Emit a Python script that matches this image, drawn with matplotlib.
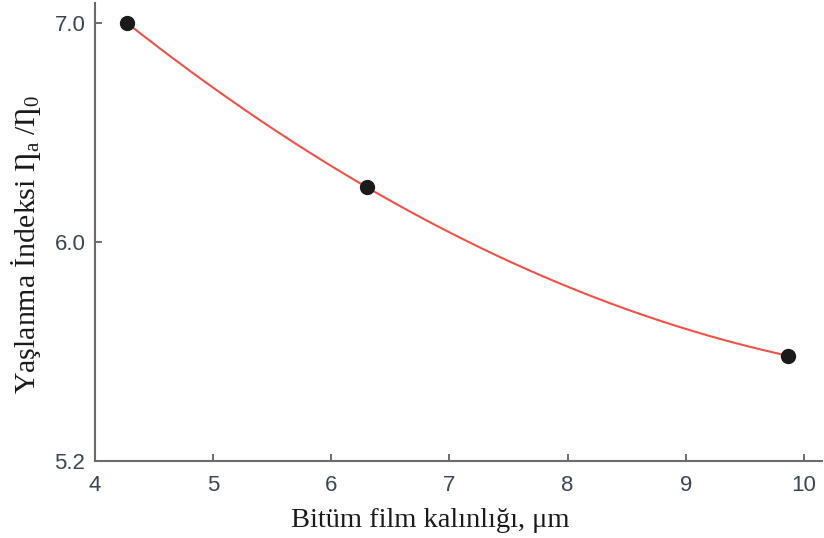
import matplotlib
matplotlib.use("Agg")
import matplotlib.pyplot as plt
import numpy as np

# data
film_thickness = [4.27, 6.30, 9.87]      # Bitüm film kalınlığı, µm
aging_index = [7.00, 6.25, 5.48]         # Ƞa/Ƞ0

x_ticks = [4, 5, 6, 7, 8, 9, 10]
y_ticks = [5.0, 6.0, 7.0]
y_tick_labels = ["5.2", "6.0", "7.0"]

plt.rcParams['mathtext.fontset'] = 'custom'
plt.rcParams['mathtext.rm'] = 'Liberation Serif'
plt.rcParams['mathtext.it'] = 'Liberation Serif'

fig = plt.figure(figsize=(8.24, 5.38), dpi=100)
ax = fig.add_axes([0.1153, 0.1431, 0.882, 0.851])

# smooth trend line (2nd order fit through the points)
coef = np.polyfit(film_thickness, aging_index, 2)
xs = np.linspace(min(film_thickness), max(film_thickness), 200)
ax.plot(xs, np.polyval(coef, xs), color='#f0524a', lw=1.5, zorder=2)
ax.scatter(film_thickness, aging_index, s=100, color='#1a1a1a', zorder=3)

ax.set_xlim(4.0, 10.152)
ax.set_ylim(5.0, 7.09)
ax.set_xticks(x_ticks)
ax.set_yticks(y_ticks)
ax.set_yticklabels(y_tick_labels)

for s in ['top', 'right']:
    ax.spines[s].set_visible(False)
for s in ['left', 'bottom']:
    ax.spines[s].set_color('#6b6b6b')
    ax.spines[s].set_linewidth(1.5)

ax.tick_params(direction='in', length=5, width=1.2, color='#555555',
               labelsize=16, labelcolor='#3b4652')
ax.tick_params(axis='x', pad=10)
ax.tick_params(axis='y', pad=7)
for lab in ax.get_xticklabels() + ax.get_yticklabels():
    lab.set_family('Liberation Sans')

ax.set_xlabel("Bitüm film kalınlığı, μm", fontsize=20.5, family='Liberation Serif',
              color='#1a1a1a', labelpad=9)
ax.set_ylabel("Yaşlanma İndeksi Ƞ$_{a}$ /Ƞ$_{0}$", fontsize=21.5,
              family=['Liberation Serif', 'DejaVu Serif'], color='#1a1a1a', labelpad=8)
ax.xaxis.label.set_x(0.461)
ax.yaxis.label.set_y(0.472)

fig.savefig("out.png", dpi=100)
